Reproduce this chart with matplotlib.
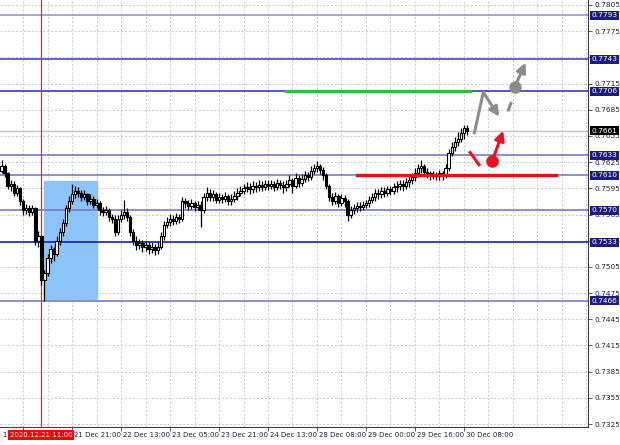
import numpy as np
import matplotlib.pyplot as plt
from matplotlib.patches import Rectangle

# H1 bars, index 0 = 2020.12.21 11:00
first_bar = -13
first_open = 0.7615
closes = [0.7620, 0.7612, 0.7598, 0.7600, 0.7590, 0.7595, 0.7580, 0.7570, 0.7573, 0.7568, 0.7572, 0.7535, 0.7540,
          0.7490, 0.7498, 0.7515, 0.7525, 0.7520, 0.7535, 0.7545, 0.7555, 0.7572, 0.7580,
          0.7588, 0.7592, 0.7590, 0.7585, 0.7588, 0.7580, 0.7583, 0.7576, 0.7578, 0.7570,
          0.7568, 0.7570, 0.7562, 0.7560, 0.7545, 0.7560, 0.7565, 0.7568, 0.7562, 0.7545,
          0.7535, 0.7530, 0.7532, 0.7528, 0.7530, 0.7526, 0.7528, 0.7524, 0.7528, 0.7540,
          0.7553, 0.7556, 0.7560, 0.7558, 0.7562, 0.7560, 0.7580, 0.7578, 0.7575, 0.7578,
          0.7574, 0.7576, 0.7570, 0.7585, 0.7590, 0.7585, 0.7588, 0.7582, 0.7585, 0.7583,
          0.7586, 0.7580, 0.7583, 0.7586, 0.7590, 0.7592, 0.7595, 0.7597, 0.7594, 0.7598,
          0.7596, 0.7599, 0.7597, 0.7600, 0.7598, 0.7600, 0.7597, 0.7601, 0.7599, 0.7596,
          0.7600, 0.7604, 0.7598, 0.7607, 0.7601, 0.7606, 0.7610, 0.7608, 0.7615, 0.7618,
          0.7620, 0.7616, 0.7610, 0.7598, 0.7585, 0.7580, 0.7586, 0.7578, 0.7584, 0.7580,
          0.7565, 0.7570, 0.7572, 0.7575, 0.7574, 0.7576, 0.7578, 0.7582, 0.7585, 0.7590,
          0.7588, 0.7592, 0.7590, 0.7594, 0.7592, 0.7596, 0.7598, 0.7600, 0.7598, 0.7602,
          0.7605, 0.7608, 0.7612, 0.7618, 0.7620, 0.7614, 0.7612, 0.7610, 0.7611, 0.7609,
          0.7612, 0.7610, 0.7618, 0.7636, 0.7642, 0.7648, 0.7652, 0.7658, 0.7664, 0.7661]
highs = [0.7627, 0.7623, 0.7614, 0.7605, 0.7603, 0.7599, 0.7597, 0.7583, 0.7577, 0.7576, 0.7576, 0.7574, 0.7546,
         0.7542, 0.7502, 0.7520, 0.7530, 0.7528, 0.7540, 0.7550, 0.7560, 0.7576, 0.7586,
         0.7600, 0.7598, 0.7596, 0.7593, 0.7593, 0.7590, 0.7588, 0.7586, 0.7583, 0.7580,
         0.7574, 0.7575, 0.7573, 0.7566, 0.7564, 0.7565, 0.7570, 0.7582, 0.7572, 0.7565,
         0.7548, 0.7540, 0.7537, 0.7536, 0.7535, 0.7534, 0.7533, 0.7531, 0.7534, 0.7545,
         0.7558, 0.7562, 0.7566, 0.7564, 0.7567, 0.7566, 0.7585, 0.7584, 0.7582, 0.7583,
         0.7581, 0.7581, 0.7580, 0.7590, 0.7596, 0.7594, 0.7593, 0.7591, 0.7590, 0.7589,
         0.7591, 0.7589, 0.7588, 0.7592, 0.7595, 0.7598, 0.7600, 0.7602, 0.7601, 0.7603,
         0.7602, 0.7604, 0.7603, 0.7605, 0.7604, 0.7605, 0.7603, 0.7606, 0.7605, 0.7603,
         0.7605, 0.7610, 0.7607, 0.7612, 0.7610, 0.7611, 0.7615, 0.7614, 0.7620, 0.7623,
         0.7626, 0.7623, 0.7619, 0.7612, 0.7600, 0.7590, 0.7591, 0.7589, 0.7589, 0.7587,
         0.7583, 0.7575, 0.7577, 0.7579, 0.7579, 0.7580, 0.7582, 0.7586, 0.7590, 0.7594,
         0.7594, 0.7597, 0.7596, 0.7598, 0.7598, 0.7601, 0.7603, 0.7605, 0.7604, 0.7607,
         0.7610, 0.7613, 0.7618, 0.7623, 0.7627, 0.7623, 0.7618, 0.7615, 0.7615, 0.7614,
         0.7616, 0.7615, 0.7623, 0.7640, 0.7648, 0.7654, 0.7660, 0.7664, 0.7668, 0.7667]
lows = [0.7612, 0.7608, 0.7594, 0.7592, 0.7586, 0.7586, 0.7576, 0.7565, 0.7566, 0.7563, 0.7565, 0.7530, 0.7528,
        0.7484, 0.7466, 0.7494, 0.7510, 0.7512, 0.7517, 0.7530, 0.7540, 0.7552, 0.7568,
        0.7577, 0.7584, 0.7585, 0.7580, 0.7582, 0.7576, 0.7577, 0.7572, 0.7572, 0.7565,
        0.7563, 0.7564, 0.7558, 0.7555, 0.7540, 0.7542, 0.7556, 0.7560, 0.7558, 0.7540,
        0.7530, 0.7524, 0.7525, 0.7522, 0.7523, 0.7520, 0.7521, 0.7519, 0.7520, 0.7525,
        0.7536, 0.7549, 0.7552, 0.7553, 0.7554, 0.7555, 0.7557, 0.7572, 0.7570, 0.7571,
        0.7569, 0.7570, 0.7551, 0.7567, 0.7581, 0.7580, 0.7581, 0.7578, 0.7578, 0.7578,
        0.7579, 0.7576, 0.7576, 0.7579, 0.7582, 0.7586, 0.7588, 0.7591, 0.7589, 0.7590,
        0.7591, 0.7592, 0.7592, 0.7593, 0.7593, 0.7594, 0.7592, 0.7593, 0.7594, 0.7590,
        0.7592, 0.7596, 0.7590, 0.7595, 0.7597, 0.7598, 0.7602, 0.7603, 0.7605, 0.7611,
        0.7614, 0.7611, 0.7605, 0.7594, 0.7580, 0.7576, 0.7577, 0.7574, 0.7575, 0.7574,
        0.7558, 0.7561, 0.7566, 0.7568, 0.7569, 0.7570, 0.7572, 0.7574, 0.7578, 0.7581,
        0.7583, 0.7584, 0.7585, 0.7586, 0.7587, 0.7588, 0.7591, 0.7593, 0.7592, 0.7594,
        0.7597, 0.7600, 0.7603, 0.7608, 0.7613, 0.7609, 0.7607, 0.7605, 0.7606, 0.7604,
        0.7605, 0.7604, 0.7607, 0.7615, 0.7632, 0.7638, 0.7644, 0.7648, 0.7652, 0.7656]

# time axis labels (bar index, text)
tick_bars = [-22, -6, 10, 26, 42, 58, 74, 90, 106, 122, 138]
tick_text = ['18 Dec 13:00', '21 Dec 05:00', '21 Dec 21:00', '22 Dec 13:00', '23 Dec 05:00',
             '23 Dec 21:00', '24 Dec 13:00', '28 Dec 08:00', '29 Dec 00:00', '29 Dec 16:00', '30 Dec 08:00']

# horizontal levels
levels = [0.7793, 0.7743, 0.7706, 0.7633, 0.7610, 0.7570, 0.7533, 0.7466]
level_colors = ['#9a9ad0', '#4a4ab4', '#3a3ab0', '#7a7ac0', '#7a7ac0', '#7a7ac0', '#2020a8', '#7a7ac0']
bid = 0.7661
price_ticks = np.round(np.arange(0.7325, 0.7806, 0.003), 4)

# zone and forecast lines
zone_bars = [1, 18]
zone_prices = [0.7468, 0.7603]
green_bars = [80, 140]
green_price = 0.7706
red_bars = [103, 168]
red_price = 0.7610
gray_path_x = [141.3, 144.3, 149.5]
gray_path_y = [0.7657, 0.7705, 0.7677]
gray_dash_x = [152.5, 153.3]
gray_dash_y = [0.76847, 0.76923]
gray_dot = [154.6, 0.7711]
gray_tip = [158.1, 0.7739]
red_dash_x = [140.0, 142.9]
red_dash_y = [0.7636, 0.7622]
red_dot = [147.2, 0.7626]
red_tip = [150.8, 0.7661]

n = len(closes)
bars = np.arange(first_bar, first_bar + n)
opens = np.array([first_open] + closes[:-1])
closes = np.array(closes)
highs = np.array(highs)
lows = np.array(lows)

fig = plt.figure(figsize=(6.2, 4.45), dpi=100)
ax = fig.add_axes([0, 18 / 445, 588 / 620, 427 / 445])

# grid
for p in price_ticks:
    ax.axhline(p, color='#c8c8c8', lw=0.7, ls=(0, (2, 2)), zorder=0)
for b in range(-6, 179, 8):
    ax.axvline(b, color='#c8c8c8', lw=0.7, ls=(0, (2, 2)), zorder=0)

# zone
ax.add_patch(Rectangle((zone_bars[0], zone_prices[0]), zone_bars[1] - zone_bars[0],
                       zone_prices[1] - zone_prices[0], color='#8cc4fa', zorder=1))

# levels
for lv, col in zip(levels, level_colors):
    ax.axhline(lv, color=col, lw=1.2, zorder=2)
ax.axhline(bid, color='#c0c0c0', lw=1, zorder=2)
ax.axvline(0, color='#ff2020', lw=0.9, zorder=2)

# candles
up = closes >= opens
ax.vlines(bars, lows, highs, color='black', lw=0.9, zorder=3)
ax.bar(bars[up], closes[up] - opens[up], bottom=opens[up], width=0.8,
       color='white', edgecolor='black', lw=0.8, zorder=4)
ax.bar(bars[~up], opens[~up] - closes[~up], bottom=closes[~up], width=0.8,
       color='black', edgecolor='black', lw=0.8, zorder=4)

# support / resistance
ax.plot(green_bars, [green_price] * 2, color='#33bb33', lw=2.4, zorder=5)
ax.plot(red_bars, [red_price] * 2, color='#e81010', lw=2.4, zorder=5)

# forecast arrows
ax.plot(gray_path_x[:2], gray_path_y[:2], color='#8c8c8c', lw=2.2, zorder=6, solid_capstyle='butt')
ax.annotate('', xy=(gray_path_x[2], gray_path_y[2]), xytext=(gray_path_x[1], gray_path_y[1]),
            arrowprops=dict(arrowstyle='-|>', color='#8c8c8c', lw=2.2, mutation_scale=14,
                            shrinkA=0, shrinkB=0), zorder=6)
ax.plot(gray_dash_x, gray_dash_y, color='#8c8c8c', lw=2.2, zorder=6)
ax.annotate('', xy=gray_tip, xytext=gray_dot,
            arrowprops=dict(arrowstyle='-|>', color='#8c8c8c', lw=2.2, mutation_scale=14,
                            shrinkA=0, shrinkB=0), zorder=6)
ax.plot(*gray_dot, 'o', color='#8c8c8c', ms=8, zorder=7)
ax.plot(red_dash_x, red_dash_y, color='#f01020', lw=2.2, zorder=6)
ax.annotate('', xy=red_tip, xytext=red_dot,
            arrowprops=dict(arrowstyle='-|>', color='#f01020', lw=2.2, mutation_scale=14,
                            shrinkA=0, shrinkB=0), zorder=6)
ax.plot(*red_dot, 'o', color='#f01020', ms=8, zorder=7)

# axes look
for s in ['top', 'left']:
    ax.spines[s].set_visible(False)
ax.spines['right'].set_color('#404040')
ax.spines['bottom'].set_color('#404040')
ax.yaxis.tick_right()
ax.set_yticks(price_ticks)
ax.set_yticklabels(['%.4f' % p for p in price_ticks], fontsize=5.3, color='#202040')
ax.tick_params(axis='y', length=3, width=0.6, pad=2, color='#404040')
ax.set_xticks(tick_bars)
ax.set_xticklabels([])
ax.tick_params(axis='x', length=3, width=0.6, color='#404040')

# limits after the ticks, so the ticks do not widen them
ax.set_xlim(-13.52, 178.5)
ax.set_ylim(0.73216, 0.78107)

for b, t in zip(tick_bars, tick_text):
    ax.text(b + 0.6, -0.012, t, transform=ax.get_xaxis_transform(), fontsize=5.0,
            color='#202040', ha='left', va='top')

# price boxes on the right axis
ytr = ax.get_yaxis_transform()
for lv in levels:
    ax.text(1.006, lv, '%.4f' % lv, transform=ytr, fontsize=5.3, color='white', va='center',
            ha='left', bbox=dict(boxstyle='square,pad=0.2', fc='#1c1c7c', ec='none'), clip_on=False)
ax.text(1.006, bid, '%.4f' % bid, transform=ytr, fontsize=5.3, color='white', va='center',
        ha='left', bbox=dict(boxstyle='square,pad=0.2', fc='black', ec='none'), clip_on=False)

# cursor date label
ax.text(0, -0.012, '2020.12.21 11:00', transform=ax.get_xaxis_transform(), fontsize=5.0,
        color='white', ha='center', va='top',
        bbox=dict(boxstyle='square,pad=0.25', fc='#ff0000', ec='none'), clip_on=False, zorder=10)

plt.savefig('out.png', dpi=100)
